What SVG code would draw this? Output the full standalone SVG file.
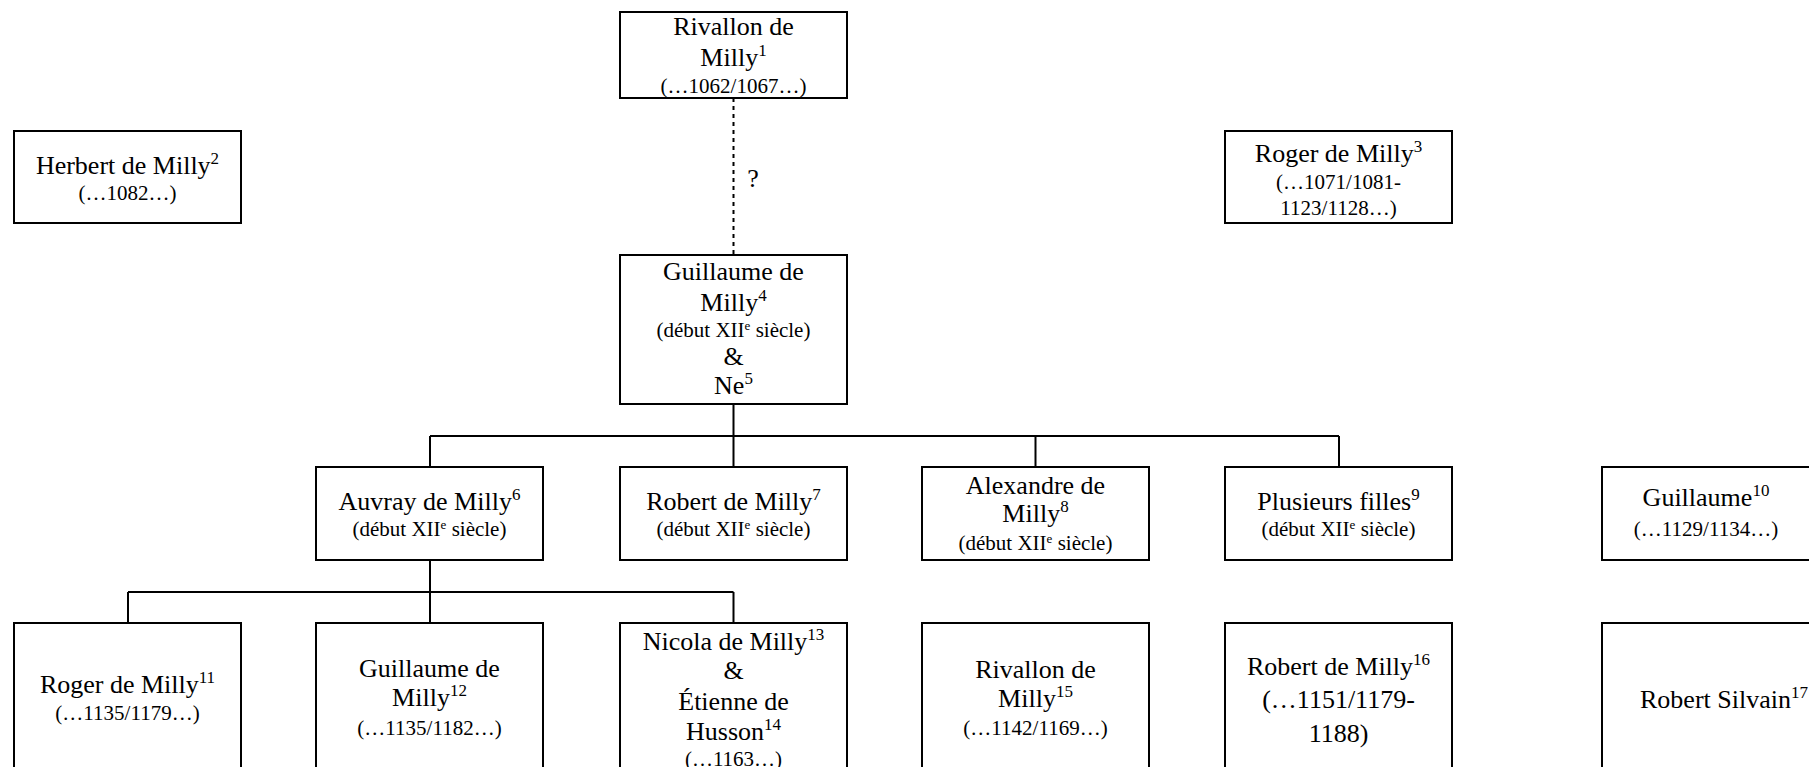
<svg xmlns="http://www.w3.org/2000/svg" width="1809" height="767" viewBox="0 0 1809 767">
<style>
.box{fill:#fff;stroke:#000;stroke-width:2}
.ln{fill:none;stroke:#000;stroke-width:2}
.dash{fill:none;stroke:#000;stroke-width:2;stroke-dasharray:4 4}
text{font-family:"Liberation Serif","Times New Roman",serif;fill:#000;text-anchor:middle}
.n{font-size:26px}
.d{font-size:21px}
.s{font-size:17px}
.se{font-size:13px}
</style>
<rect width="1809" height="767" fill="#fff"/>
<g id="connectors">
<path class="dash" d="M733.5 98 V255"/>
<text class="n" x="753" y="187">?</text>
<path class="ln" d="M733.5 404 V436 M430 436 H1339 M430 436 V467 M733.5 436 V467 M1035.5 436 V467 M1339 436 V467"/>
<path class="ln" d="M430 560 V592 M128 592 H733.5 M128 592 V623 M430 592 V623 M733.5 592 V623"/>
</g>
<g id="n1">
<rect class="box" x="620" y="12" width="227" height="86"/>
<text class="n" x="733.5" y="35">Rivallon de</text>
<text class="n" x="733.5" y="66">Milly<tspan class="s" dy="-10">1</tspan></text>
<text class="d" x="733.5" y="93">(…1062/1067…)</text>
</g>
<g id="n2">
<rect class="box" x="14" y="131" width="227" height="92"/>
<text class="n" x="127.5" y="174">Herbert de Milly<tspan class="s" dy="-10">2</tspan></text>
<text class="d" x="127.5" y="200">(…1082…)</text>
</g>
<g id="n3">
<rect class="box" x="1225" y="131" width="227" height="92"/>
<text class="n" x="1338.5" y="162">Roger de Milly<tspan class="s" dy="-10">3</tspan></text>
<text class="d" x="1338.5" y="189">(…1071/1081-</text>
<text class="d" x="1338.5" y="215">1123/1128…)</text>
</g>
<g id="n4">
<rect class="box" x="620" y="255" width="227" height="149"/>
<text class="n" x="733.5" y="280">Guillaume de</text>
<text class="n" x="733.5" y="311">Milly<tspan class="s" dy="-10">4</tspan></text>
<text class="d" x="733.5" y="337">(début XII<tspan class="se" dy="-7">e</tspan><tspan dy="7"> siècle)</tspan></text>
<text class="n" x="733.5" y="365">&amp;</text>
<text class="n" x="733.5" y="394">Ne<tspan class="s" dy="-10">5</tspan></text>
</g>
<g id="n6">
<rect class="box" x="316" y="467" width="227" height="93"/>
<text class="n" x="429.5" y="510">Auvray de Milly<tspan class="s" dy="-10">6</tspan></text>
<text class="d" x="429.5" y="536">(début XII<tspan class="se" dy="-7">e</tspan><tspan dy="7"> siècle)</tspan></text>
</g>
<g id="n7">
<rect class="box" x="620" y="467" width="227" height="93"/>
<text class="n" x="733.5" y="510">Robert de Milly<tspan class="s" dy="-10">7</tspan></text>
<text class="d" x="733.5" y="536">(début XII<tspan class="se" dy="-7">e</tspan><tspan dy="7"> siècle)</tspan></text>
</g>
<g id="n8">
<rect class="box" x="922" y="467" width="227" height="93"/>
<text class="n" x="1035.5" y="494">Alexandre de</text>
<text class="n" x="1035.5" y="522">Milly<tspan class="s" dy="-10">8</tspan></text>
<text class="d" x="1035.5" y="550">(début XII<tspan class="se" dy="-7">e</tspan><tspan dy="7"> siècle)</tspan></text>
</g>
<g id="n9">
<rect class="box" x="1225" y="467" width="227" height="93"/>
<text class="n" x="1338.5" y="510">Plusieurs filles<tspan class="s" dy="-10">9</tspan></text>
<text class="d" x="1338.5" y="536">(début XII<tspan class="se" dy="-7">e</tspan><tspan dy="7"> siècle)</tspan></text>
</g>
<g id="n10">
<rect class="box" x="1602" y="467" width="240" height="93"/>
<text class="n" x="1706" y="506">Guillaume<tspan class="s" dy="-10">10</tspan></text>
<text class="d" x="1706" y="536">(…1129/1134…)</text>
</g>
<g id="n11">
<rect class="box" x="14" y="623" width="227" height="200"/>
<text class="n" x="127.5" y="693">Roger de Milly<tspan class="s" dy="-10">11</tspan></text>
<text class="d" x="127.5" y="720">(…1135/1179…)</text>
</g>
<g id="n12">
<rect class="box" x="316" y="623" width="227" height="200"/>
<text class="n" x="429.5" y="677">Guillaume de</text>
<text class="n" x="429.5" y="706">Milly<tspan class="s" dy="-10">12</tspan></text>
<text class="d" x="429.5" y="735">(…1135/1182…)</text>
</g>
<g id="n13">
<rect class="box" x="620" y="623" width="227" height="200"/>
<text class="n" x="733.5" y="650">Nicola de Milly<tspan class="s" dy="-10">13</tspan></text>
<text class="n" x="733.5" y="679">&amp;</text>
<text class="n" x="733.5" y="710">Étienne de</text>
<text class="n" x="733.5" y="740">Husson<tspan class="s" dy="-10">14</tspan></text>
<text class="d" x="733.5" y="766">(…1163…)</text>
</g>
<g id="n15">
<rect class="box" x="922" y="623" width="227" height="200"/>
<text class="n" x="1035.5" y="678">Rivallon de</text>
<text class="n" x="1035.5" y="707">Milly<tspan class="s" dy="-10">15</tspan></text>
<text class="d" x="1035.5" y="735">(…1142/1169…)</text>
</g>
<g id="n16">
<rect class="box" x="1225" y="623" width="227" height="200"/>
<text class="n" x="1338.5" y="675">Robert de Milly<tspan class="s" dy="-10">16</tspan></text>
<text class="n" x="1338.5" y="708">(…1151/1179-</text>
<text class="n" x="1338.5" y="742">1188)</text>
</g>
<g id="n17">
<rect class="box" x="1602" y="623" width="260" height="200"/>
<text class="n" x="1724" y="708">Robert Silvain<tspan class="s" dy="-10">17</tspan></text>
</g>
</svg>
